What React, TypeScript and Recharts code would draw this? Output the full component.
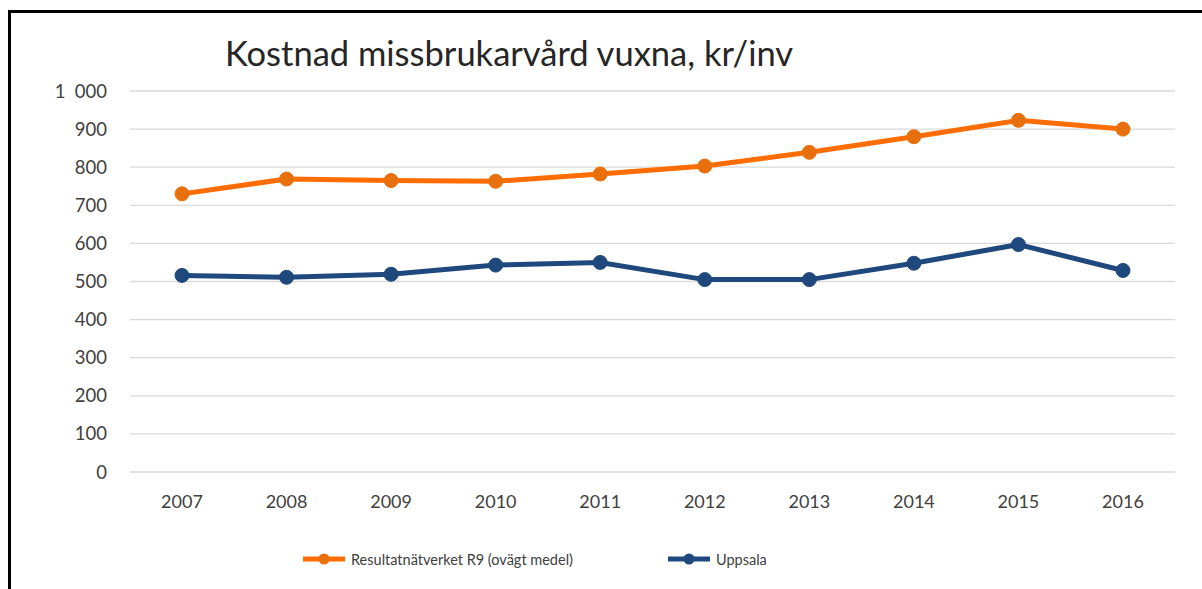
import { LineChart, Line, XAxis, YAxis, CartesianGrid } from 'recharts'

const years = ['2007', '2008', '2009', '2010', '2011', '2012', '2013', '2014', '2015', '2016']
const r9Values = [730, 769, 765, 763, 782, 803, 839, 880, 923, 900]
const uppsalaValues = [516, 511, 519, 543, 550, 505, 505, 548, 597, 529]
const yTicks = [0, 100, 200, 300, 400, 500, 600, 700, 800, 900, 1000]

const SERIES = [
  { key: 'r9', name: 'Resultatnätverket R9 (ovägt medel)', line: '#FF6D00', dot: '#E8700C' },
  { key: 'uppsala', name: 'Uppsala', line: '#1F497D', dot: '#1F497D' },
]

const FONT = 'Lato, "Open Sans", sans-serif'

const data = years.map((y, i) => ({ year: y, r9: r9Values[i], uppsala: uppsalaValues[i] }))

const fmt = (v: number) => (v >= 1000 ? `${Math.floor(v / 1000)}\u2002${String(v % 1000).padStart(3, '0')}` : String(v))

function LegendRow() {
  const pos = [303, 668]
  return (
    <>
      {SERIES.map((s, i) => (
        <div
          key={s.key}
          style={{ position: 'absolute', left: pos[i], top: 548, display: 'flex', alignItems: 'center', fontFamily: FONT, fontSize: 14.5, color: '#404040' }}
        >
          <svg width={42} height={22}>
            <line x1={0} y1={11} x2={42} y2={11} stroke={s.line} strokeWidth={5} strokeLinecap="round" />
            <circle cx={21} cy={11} r={5.5} fill={s.dot} />
          </svg>
          <span style={{ marginLeft: 6 }}>{s.name}</span>
        </div>
      ))}
    </>
  )
}

export default function App() {
  return (
    <div style={{ position: 'absolute', left: 0, top: 0, width: 1202, height: 589, overflow: 'hidden', background: '#fff' }}>
      <div style={{ position: 'absolute', left: 8, top: 10, width: 1300, height: 700, borderLeft: '3px solid #000', borderTop: '3px solid #000' }} />
      <div style={{ position: 'absolute', left: 225, top: 32, fontFamily: FONT, fontSize: 34.5, color: '#262626', whiteSpace: 'nowrap' }}>
        Kostnad missbrukarvård vuxna, kr/inv
      </div>
      <div style={{ position: 'absolute', left: 0, top: 0 }}>
        <LineChart width={1202} height={589} data={data} margin={{ top: 91, right: 27, bottom: 87, left: 0 }}>
          <CartesianGrid vertical={false} stroke="#D9D9D9" strokeWidth={1.3} />
          <XAxis
            dataKey="year"
            axisLine={false}
            tickLine={false}
            tickMargin={17}
            height={30}
            padding={{ left: 52, right: 52 }}
            tick={{ fontSize: 18, fill: '#404040', fontFamily: FONT }}
          />
          <YAxis
            domain={[0, 1000]}
            ticks={yTicks}
            interval={0}
            axisLine={false}
            tickLine={false}
            tickMargin={17}
            width={130}
            tickFormatter={fmt}
            tick={{ fontSize: 18.5, fill: '#404040', fontFamily: FONT }}
          />
          {SERIES.map((s) => (
            <Line
              key={s.key}
              type="linear"
              dataKey={s.key}
              name={s.name}
              stroke={s.line}
              strokeWidth={5}
              dot={{ r: 7, fill: s.dot, stroke: s.dot, strokeWidth: 1 }}
              activeDot={false}
              isAnimationActive={false}
            />
          ))}
        </LineChart>
      </div>
      <LegendRow />
    </div>
  )
}
